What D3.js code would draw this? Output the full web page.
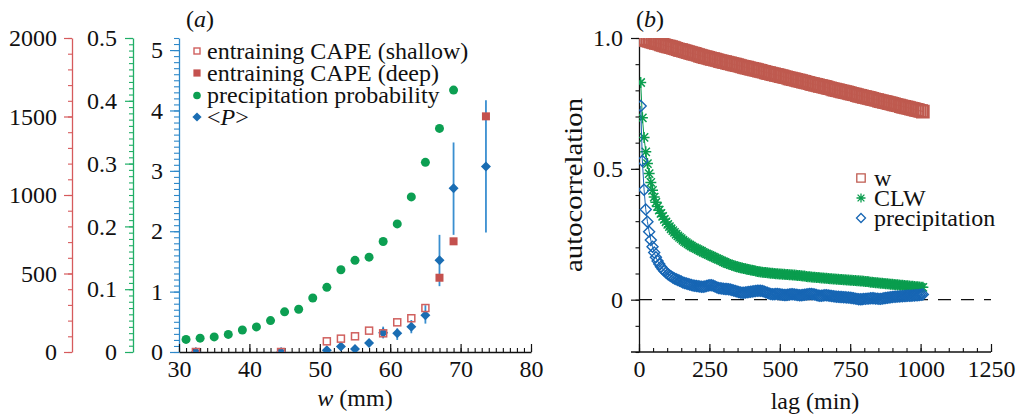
<!DOCTYPE html>
<html>
<head>
<meta charset="utf-8">
<script src="https://cdn.jsdelivr.net/npm/d3@7"></script>
<style>
  body { margin: 0; background: #fff; }
  svg { display: block; }
  text { font-family: "Liberation Serif", "Times New Roman", serif; fill: #111; }
</style>
</head>
<body>
<svg id="chart" width="1018" height="414"></svg>
<script>
// ---------- Panel (a): binned statistics against column water vapour w ----------
const wProb = [31, 33, 35, 37, 39, 41, 43, 45, 47, 49, 51, 53, 55, 57, 59, 61, 63, 65, 67, 69];
const precipProb = [0.020, 0.022, 0.024, 0.028, 0.035, 0.040, 0.050, 0.064, 0.068, 0.086,
                    0.103, 0.131, 0.146, 0.151, 0.176, 0.204, 0.247, 0.302, 0.356, 0.417];

const wShallow = [32.4, 44.5, 51, 53, 55, 57, 59, 61, 63, 65];
const capeShallow = [0, 0, 68, 85, 100, 136, 119, 189, 215, 280];

const wDeep = [67, 69, 73.6];
const capeDeep = [473, 705, 1501];

const wMeanP = [32.4, 44.5, 51, 53, 55, 57, 59, 61, 63, 65, 67, 69, 73.6];
const meanP = [0, 0, 0.03, 0.09, 0.05, 0.15, 0.32, 0.31, 0.42, 0.61, 1.52, 2.71, 3.07];
const meanPLow = [0, 0, 0.01, 0.04, 0.02, 0.12, 0.225, 0.20, 0.31, 0.47, 1.09, 1.94, 1.98];
const meanPHigh = [0, 0, 0.05, 0.14, 0.08, 0.18, 0.42, 0.39, 0.53, 0.775, 1.94, 3.47, 4.17];

const capeTicks = [0, 500, 1000, 1500, 2000];
const probTicks = [0, 0.1, 0.2, 0.3, 0.4, 0.5];
const probTickLabels = ["0", "0.1", "0.2", "0.3", "0.4", "0.5"];
const pTicks = [0, 1, 2, 3, 4, 5];
const wTicks = [30, 40, 50, 60, 70, 80];

// ---------- Panel (b): autocorrelation against lag ----------
const lagStep = 6; // minutes between successive lags
const acfW = [
  0.998,0.996,0.994,0.993,0.991,0.989,0.987,0.985,0.983,0.981,
  0.980,0.978,0.976,0.974,0.972,0.970,0.968,0.967,0.965,0.963,
  0.961,0.959,0.957,0.955,0.954,0.952,0.950,0.948,0.946,0.944,
  0.942,0.940,0.939,0.937,0.935,0.933,0.931,0.929,0.927,0.926,
  0.924,0.922,0.920,0.919,0.917,0.916,0.914,0.912,0.911,0.909,
  0.908,0.906,0.904,0.903,0.901,0.899,0.898,0.896,0.895,0.893,
  0.891,0.890,0.888,0.887,0.885,0.883,0.882,0.880,0.879,0.877,
  0.875,0.874,0.872,0.871,0.869,0.867,0.866,0.864,0.862,0.861,
  0.859,0.858,0.856,0.854,0.853,0.851,0.850,0.848,0.846,0.845,
  0.843,0.842,0.840,0.838,0.837,0.835,0.833,0.832,0.830,0.829,
  0.827,0.825,0.824,0.822,0.821,0.819,0.817,0.816,0.814,0.813,
  0.811,0.809,0.808,0.806,0.804,0.803,0.801,0.800,0.798,0.796,
  0.795,0.793,0.792,0.790,0.788,0.787,0.785,0.784,0.782,0.780,
  0.779,0.777,0.775,0.774,0.772,0.771,0.769,0.767,0.766,0.764,
  0.763,0.761,0.759,0.758,0.756,0.755,0.753,0.751,0.750,0.748,
  0.746,0.745,0.743,0.742,0.740,0.738,0.737,0.735,0.734,0.732,
  0.730,0.729,0.727,0.725,0.724,0.722,0.721,0.719
];
const acfCLW = [
  0.830,0.695,0.620,0.565,0.520,0.482,0.448,0.418,0.392,0.372,
  0.356,0.342,0.330,0.318,0.307,0.297,0.288,0.279,0.271,0.264,
  0.257,0.250,0.244,0.238,0.233,0.227,0.222,0.218,0.213,0.209,
  0.205,0.201,0.198,0.195,0.191,0.188,0.185,0.181,0.178,0.175,
  0.172,0.169,0.166,0.163,0.160,0.157,0.154,0.151,0.148,0.145,
  0.142,0.139,0.137,0.134,0.132,0.130,0.128,0.126,0.124,0.122,
  0.121,0.119,0.118,0.116,0.115,0.113,0.112,0.111,0.110,0.108,
  0.107,0.106,0.105,0.104,0.104,0.103,0.102,0.101,0.101,0.100,
  0.099,0.099,0.098,0.098,0.097,0.097,0.096,0.096,0.095,0.095,
  0.094,0.094,0.093,0.092,0.092,0.091,0.090,0.090,0.089,0.088,
  0.088,0.087,0.086,0.086,0.085,0.085,0.084,0.083,0.083,0.082,
  0.082,0.081,0.080,0.080,0.079,0.079,0.078,0.078,0.077,0.077,
  0.076,0.076,0.075,0.075,0.074,0.074,0.073,0.073,0.072,0.072,
  0.071,0.071,0.070,0.069,0.069,0.068,0.067,0.067,0.066,0.065,
  0.065,0.064,0.063,0.063,0.062,0.061,0.061,0.060,0.059,0.059,
  0.058,0.057,0.057,0.056,0.055,0.055,0.054,0.053,0.053,0.052,
  0.051,0.051,0.050,0.049,0.049,0.048,0.047,0.047
];
const acfPrecip = [
  0.740,0.530,0.420,0.345,0.298,0.260,0.228,0.202,0.180,0.162,
  0.148,0.136,0.126,0.117,0.110,0.104,0.098,0.093,0.089,0.085,
  0.081,0.078,0.075,0.072,0.069,0.066,0.064,0.062,0.060,0.058,
  0.056,0.054,0.053,0.052,0.051,0.050,0.049,0.049,0.050,0.052,
  0.054,0.055,0.055,0.053,0.050,0.047,0.045,0.044,0.043,0.042,
  0.041,0.041,0.040,0.039,0.037,0.035,0.033,0.031,0.029,0.027,
  0.026,0.026,0.027,0.028,0.029,0.030,0.031,0.032,0.033,0.034,
  0.034,0.034,0.033,0.031,0.028,0.026,0.024,0.022,0.021,0.021,
  0.022,0.022,0.021,0.020,0.019,0.018,0.018,0.019,0.020,0.021,
  0.021,0.020,0.019,0.018,0.017,0.017,0.018,0.019,0.020,0.021,
  0.022,0.022,0.021,0.020,0.018,0.016,0.015,0.015,0.016,0.017,
  0.017,0.016,0.015,0.014,0.013,0.012,0.011,0.011,0.010,0.010,
  0.009,0.009,0.008,0.008,0.007,0.006,0.005,0.004,0.003,0.002,
  0.002,0.002,0.003,0.003,0.004,0.004,0.005,0.005,0.005,0.004,
  0.004,0.003,0.003,0.004,0.005,0.006,0.007,0.008,0.009,0.010,
  0.011,0.011,0.012,0.012,0.013,0.013,0.014,0.014,0.015,0.015,
  0.015,0.016,0.016,0.017,0.017,0.018,0.019,0.020
];
const lagTicks = [0, 250, 500, 750, 1000, 1250];
const acfTicks = [0, 0.5, 1.0];
const acfTickLabels = ["0", "0.5", "1.0"];

// ---------- styling ----------
const FONT = 24;
const RED = "#c4514e", RED_AXIS = "#d65a5c", RED_OPEN = "#d0605e";
const GREEN = "#0c9f52", GREEN_AXIS = "#1fae66";
const BLUE = "#1a6db3", BLUE_AXIS = "#2d88c9", BLUE_ERR = "#3a8fd0";
const W_COL = "#bf5a4f", CLW_COL = "#0a9d4e", PR_COL = "#1766b4";

const svg = d3.select("#chart");

function styleAxis(g, color, labelColor) {
  g.attr("font-family", null).attr("font-size", null);
  g.select(".domain").attr("stroke", color).attr("stroke-width", 1.3);
  g.selectAll(".tick line").attr("stroke", color).attr("stroke-width", 1.2);
  g.selectAll(".tick text").attr("fill", labelColor || "#111").style("font-size", FONT + "px");
}
function minorTicks(g, axis, color) {
  g.call(axis);
  g.attr("font-family", null).attr("font-size", null);
  g.select(".domain").remove();
  g.selectAll(".tick line").attr("stroke", color).attr("stroke-width", 1.1);
  g.selectAll(".tick text").remove();
}

// ================= Panel (a) =================
const xA = d3.scaleLinear([30, 80], [179, 531]);
const yCape = d3.scaleLinear([0, 2000], [352, 38]);
const yProb = d3.scaleLinear([0, 0.5], [352, 38]);
const yP = d3.scaleLinear([0, 5.2], [352, 38]);

// red CAPE axis
minorTicks(svg.append("g").attr("transform", "translate(72,0)"),
  d3.axisLeft(yCape).tickValues(d3.range(0, 2001, 100)).tickSize(4).tickFormat(""), RED_AXIS);
styleAxis(svg.append("g").attr("transform", "translate(72,0)")
  .call(d3.axisLeft(yCape).tickValues(capeTicks).tickSize(8).tickSizeOuter(0).tickPadding(7).tickFormat(d3.format("d"))), RED_AXIS);

// green probability axis
minorTicks(svg.append("g").attr("transform", "translate(133,0)"),
  d3.axisLeft(yProb).tickValues(d3.range(0, 51).map(i => i / 100)).tickSize(4).tickFormat(""), GREEN_AXIS);
styleAxis(svg.append("g").attr("transform", "translate(133,0)")
  .call(d3.axisLeft(yProb).tickValues(probTicks).tickSize(8).tickSizeOuter(0).tickPadding(8)
    .tickFormat((d, i) => probTickLabels[i])), GREEN_AXIS);

// blue <P> axis
minorTicks(svg.append("g").attr("transform", "translate(179,0)"),
  d3.axisLeft(yP).tickValues(d3.range(0, 53).map(i => i / 10)).tickSize(5).tickFormat(""), BLUE_AXIS);
styleAxis(svg.append("g").attr("transform", "translate(179,0)")
  .call(d3.axisLeft(yP).tickValues(pTicks).tickSize(9).tickSizeOuter(0).tickPadding(7).tickFormat(d3.format("d"))), BLUE_AXIS);

// bottom w axis (ticks point inward)
minorTicks(svg.append("g").attr("transform", "translate(0,352)"),
  d3.axisBottom(xA).tickValues(d3.range(30, 81)).tickSize(-4).tickFormat(""), "#111");
styleAxis(svg.append("g").attr("transform", "translate(0,352)")
  .call(d3.axisBottom(xA).tickValues(wTicks).tickSize(-8).tickSizeOuter(0).tickPadding(8).tickFormat(d3.format("d"))), "#111");

// axis title
const xTitleA = svg.append("text").attr("x", 355).attr("y", 406).attr("text-anchor", "middle").style("font-size", FONT + "px");
xTitleA.append("tspan").style("font-style", "italic").text("w");
xTitleA.append("tspan").text(" (mm)");

// panel label
const labA = svg.append("text").attr("x", 186).attr("y", 27).style("font-size", FONT + "px");
labA.append("tspan").text("(");
labA.append("tspan").style("font-style", "italic").text("a");
labA.append("tspan").text(")");

svg.append("defs").append("clipPath").attr("id", "clipA")
  .append("rect").attr("x", 179).attr("y", 30).attr("width", 360).attr("height", 322);
const plotA = svg.append("g").attr("clip-path", "url(#clipA)");

// precipitation probability
plotA.append("g").selectAll("circle").data(wProb).join("circle")
  .attr("cx", d => xA(d)).attr("cy", (d, i) => yProb(precipProb[i])).attr("r", 4.5).attr("fill", GREEN);

// <P> with error bars
plotA.append("g").selectAll("line").data(wMeanP).join("line")
  .attr("x1", d => xA(d)).attr("x2", d => xA(d))
  .attr("y1", (d, i) => yP(meanPLow[i])).attr("y2", (d, i) => yP(meanPHigh[i]))
  .attr("stroke", BLUE_ERR).attr("stroke-width", 1.8);
plotA.append("g").selectAll("path").data(wMeanP).join("path")
  .attr("transform", (d, i) => `translate(${xA(d)},${yP(meanP[i])})`)
  .attr("d", "M0,-5L5,0L0,5L-5,0Z").attr("fill", BLUE);

// entraining CAPE (shallow)
plotA.append("g").selectAll("rect").data(wShallow).join("rect")
  .attr("x", d => xA(d) - 3.5).attr("y", (d, i) => yCape(capeShallow[i]) - 3.5)
  .attr("width", 7).attr("height", 7).attr("fill", "none").attr("stroke", RED_OPEN).attr("stroke-width", 1.5);

// entraining CAPE (deep)
plotA.append("g").selectAll("rect").data(wDeep).join("rect")
  .attr("x", d => xA(d) - 4).attr("y", (d, i) => yCape(capeDeep[i]) - 4)
  .attr("width", 8).attr("height", 8).attr("fill", RED);

// legend (a)
const legA = svg.append("g");
const legAItems = [
  { kind: "open", y: 51 }, { kind: "fill", y: 73 }, { kind: "dot", y: 95.5 }, { kind: "diamond", y: 117 }
];
legAItems.forEach(it => {
  const x = 197;
  if (it.kind === "open") legA.append("rect").attr("x", x - 3).attr("y", it.y - 3).attr("width", 6).attr("height", 6)
    .attr("fill", "none").attr("stroke", RED_OPEN).attr("stroke-width", 1.4);
  if (it.kind === "fill") legA.append("rect").attr("x", x - 3.6).attr("y", it.y - 3.6).attr("width", 7.2).attr("height", 7.2).attr("fill", RED);
  if (it.kind === "dot") legA.append("circle").attr("cx", x).attr("cy", it.y).attr("r", 3.8).attr("fill", GREEN);
  if (it.kind === "diamond") legA.append("path").attr("transform", `translate(${x},${it.y})`).attr("d", "M0,-4.6L4.6,0L0,4.6L-4.6,0Z").attr("fill", BLUE);
});
const legATexts = ["entraining CAPE (shallow)", "entraining CAPE (deep)", "precipitation probability"];
legATexts.forEach((t, i) => {
  legA.append("text").attr("x", 207).attr("y", legAItems[i].y).attr("dy", "0.32em").style("font-size", FONT + "px").text(t);
});
const pLab = legA.append("text").attr("x", 207).attr("y", legAItems[3].y).attr("dy", "0.32em").style("font-size", FONT + "px");
pLab.append("tspan").text("<");
pLab.append("tspan").style("font-style", "italic").text("P");
pLab.append("tspan").text(">");

// ================= Panel (b) =================
const xB = d3.scaleLinear([0, 1250], [639, 991]);
const yB = d3.scaleLinear([-0.2, 1.0], [352, 38]);
const lags = d3.range(1, acfW.length + 1).map(i => i * lagStep);

minorTicks(svg.append("g").attr("transform", "translate(639,0)"),
  d3.axisLeft(yB).tickValues(d3.range(-2, 11).map(i => i / 10)).tickSize(3.5).tickFormat(""), "#111");
styleAxis(svg.append("g").attr("transform", "translate(639,0)")
  .call(d3.axisLeft(yB).tickValues(acfTicks).tickSize(8).tickSizeOuter(0).tickPadding(8)
    .tickFormat((d, i) => acfTickLabels[i])), "#111");

minorTicks(svg.append("g").attr("transform", "translate(0,352)"),
  d3.axisBottom(xB).tickValues(d3.range(0, 1251, 50)).tickSize(-4).tickFormat(""), "#111");
const xAxB = svg.append("g").attr("transform", "translate(0,352)")
  .call(d3.axisBottom(xB).tickValues(lagTicks).tickSize(-8).tickSizeOuter(0).tickPadding(8).tickFormat(d3.format("d")));
styleAxis(xAxB, "#111");
xAxB.select(".domain").remove();
svg.append("line").attr("x1", 631).attr("x2", xB(1250)).attr("y1", 352).attr("y2", 352)
  .attr("stroke", "#111").attr("stroke-width", 1.3);

// zero reference line
svg.append("line").attr("x1", xB(0)).attr("x2", xB(1250)).attr("y1", yB(0)).attr("y2", yB(0))
  .attr("stroke", "#111").attr("stroke-width", 1.3).attr("stroke-dasharray", "13,10");

svg.append("text").attr("x", 815).attr("y", 409).attr("text-anchor", "middle").style("font-size", FONT + "px").text("lag (min)");
svg.append("text").attr("transform", "translate(582,185) rotate(-90)").attr("text-anchor", "middle")
  .attr("textLength", 174).attr("lengthAdjust", "spacingAndGlyphs")
  .style("font-size", "26px").text("autocorrelation");

const labB = svg.append("text").attr("x", 636).attr("y", 27).style("font-size", FONT + "px");
labB.append("tspan").text("(");
labB.append("tspan").style("font-style", "italic").text("b");
labB.append("tspan").text(")");

svg.select("defs").append("clipPath").attr("id", "clipB")
  .append("rect").attr("x", 639).attr("y", 38).attr("width", 360).attr("height", 314);
const plotB = svg.append("g").attr("clip-path", "url(#clipB)");

const sq = 6;
const squarePath = `M${-sq},${-sq}H${sq}V${sq}H${-sq}Z`;
const st = 5.5, sd = st * 0.75;
const starPath = `M${-st},0H${st}M0,${-st}V${st}M${-sd},${-sd}L${sd},${sd}M${-sd},${sd}L${sd},${-sd}`;
const dm = 5.5;
const diamondPath = `M0,${-dm}L${dm},0L0,${dm}L${-dm},0Z`;

function drawSeries(values, color, path, width) {
  const g = plotB.append("g");
  g.append("path").datum(values)
    .attr("d", d3.line().x((d, i) => xB(lags[i])).y(d => yB(d)))
    .attr("fill", "none").attr("stroke", color).attr("stroke-width", 1);
  g.selectAll("path.m").data(values).join("path").attr("class", "m")
    .attr("transform", (d, i) => `translate(${xB(lags[i])},${yB(d)})`)
    .attr("d", path).attr("fill", "none").attr("stroke", color).attr("stroke-width", width);
}
drawSeries(acfW, W_COL, squarePath, 1.7);
drawSeries(acfCLW, CLW_COL, starPath, 1.5);
drawSeries(acfPrecip, PR_COL, diamondPath, 1.4);

// legend (b)
const legB = svg.append("g");
const legBItems = [
  { label: "w", color: W_COL, path: `M-4.2,-4.2H4.2V4.2H-4.2Z`, y: 178 },
  { label: "CLW", color: CLW_COL, path: `M-4.5,0H4.5M0,-4.5V4.5M-3.4,-3.4L3.4,3.4M-3.4,3.4L3.4,-3.4`, y: 198 },
  { label: "precipitation", color: PR_COL, path: `M0,-4.5L4.5,0L0,4.5L-4.5,0Z`, y: 218 }
];
legBItems.forEach(it => {
  legB.append("path").attr("transform", `translate(861,${it.y})`).attr("d", it.path)
    .attr("fill", "none").attr("stroke", it.color).attr("stroke-width", 1.3);
  legB.append("text").attr("x", 874).attr("y", it.y).attr("dy", "0.32em").attr("fill", "#333")
    .style("font-size", FONT + "px").text(it.label);
});
</script>
</body>
</html>
